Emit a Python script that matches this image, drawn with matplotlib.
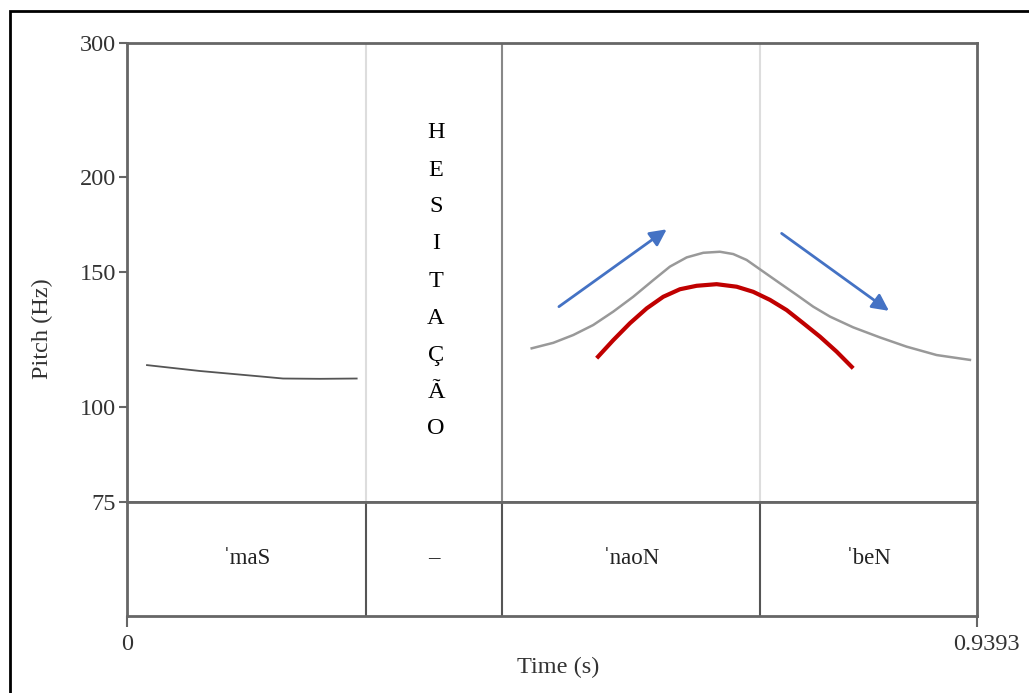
import numpy as np
import matplotlib.pyplot as plt
from matplotlib.patches import Rectangle

plt.rcParams['font.family'] = ['Liberation Serif', 'DejaVu Serif']

# pitch track, first word
t_mas = [0.0221, 0.0807, 0.1470, 0.1724, 0.2133, 0.2538]
f_mas = [113.4, 111.4, 109.6, 108.9, 108.8, 108.9]

# pitch track, second and third words
t_naon = [0.4472, 0.4711, 0.4932, 0.5152, 0.5374, 0.5594, 0.5816, 0.6000,
          0.6185, 0.6368, 0.6552, 0.6699, 0.6847, 0.7031, 0.7215, 0.7400,
          0.7583, 0.7768, 0.8025, 0.8320, 0.8615, 0.8947, 0.9315]
f_naon = [119.3, 121.3, 124.2, 128.0, 133.3, 139.4, 146.6, 152.7,
          157.0, 159.2, 159.7, 158.6, 155.8, 150.4, 145.2, 140.2,
          135.3, 131.3, 127.1, 123.3, 119.9, 116.9, 115.2]

# stylised contour drawn over the track
t_red = [0.5190, 0.5374, 0.5558, 0.5743, 0.5926, 0.6110, 0.6295, 0.6516,
         0.6737, 0.6920, 0.7105, 0.7290, 0.7473, 0.7657, 0.7842, 0.8025]
f_red = [115.8, 122.3, 128.7, 134.6, 139.4, 142.6, 144.1, 144.8,
         143.7, 141.5, 138.1, 133.9, 128.7, 123.6, 118.1, 112.3]

# rise / fall arrows (start time, start Hz, end time, end Hz)
arrows = [(0.4773, 135.3, 0.5964, 170.9),
          (0.7234, 168.8, 0.8420, 133.6)]

# word tier
t_end = 0.9393
bounds = [0.2640, 0.4144, 0.6995]
words = ['ˈmaS', '–', 'ˈnaoN', 'ˈbeN']
hes_letters = ['H', 'E', 'S', 'I', 'T', 'A', 'Ç', 'Ã', 'O']

W, H = 1029, 693
fig = plt.figure(figsize=(W / 100, H / 100), dpi=100)

def frac(x0, y0, x1, y1):
    return [x0 / W, 1 - y1 / H, (x1 - x0) / W, (y1 - y0) / H]

spine_col = '#666666'
fs = 17.5

# outer frame
fig.patches.append(Rectangle((10 / W, -0.05), 1.1, 1 - 11 / H + 0.05,
                             transform=fig.transFigure, fill=False,
                             edgecolor='black', lw=2))

ax = fig.add_axes(frac(127, 43, 977, 502))
ax.set_yscale('log')
ax.set_xlim(0, t_end)
ax.set_ylim(75, 300)
ax.set_yticks([75, 100, 150, 200, 300])
ax.set_yticklabels(['75', '100', '150', '200', '300'])
ax.yaxis.set_minor_locator(plt.NullLocator())
ax.set_xticks([])
ax.tick_params(axis='y', length=6, width=1.5, color=spine_col,
               labelsize=fs, labelcolor='#333333', pad=2)
for s in ax.spines.values():
    s.set_color(spine_col)
    s.set_linewidth(2)

ax.axvline(bounds[0], color='#dddddd', lw=1.5)
ax.axvline(bounds[1], color='#888888', lw=1.5)
ax.axvline(bounds[2], color='#dddddd', lw=1.5)

ax.plot(t_mas, f_mas, color='#555555', lw=1.3, solid_joinstyle='round')
ax.plot(t_naon, f_naon, color='#999999', lw=1.8, solid_joinstyle='round')
ax.plot(t_red, f_red, color='#C00000', lw=3, solid_capstyle='butt',
        solid_joinstyle='round')

for x0, y0, x1, y1 in arrows:
    ax.annotate('', xy=(x1, y1), xytext=(x0, y0),
                arrowprops=dict(arrowstyle='-|>,head_length=1.0,head_width=0.5',
                                color='#4472C4', lw=2, shrinkA=0, shrinkB=0))

# vertical label for the hesitation
for i, ch in enumerate(hes_letters):
    y_px = 133 + i * 37
    fig.text(436 / W, 1 - y_px / H, ch, fontsize=fs, ha='center', va='center',
             color='black')

# text tier
tier = fig.add_axes(frac(127, 502, 977, 616))
tier.set_xlim(0, t_end)
tier.set_ylim(0, 1)
tier.set_yticks([])
tier.set_xticks([0, t_end])
tier.set_xticklabels([])
tier.tick_params(axis='x', length=8, width=1.5, color=spine_col)
for s in tier.spines.values():
    s.set_color(spine_col)
    s.set_linewidth(2)
for b in bounds:
    tier.axvline(b, color='#555555', lw=1.5)
edges = [0] + bounds + [t_end]
for i, w in enumerate(words):
    tier.text((edges[i] + edges[i + 1]) / 2, 0.5, w, fontsize=fs - 1,
              ha='center', va='center', color='#222222')

tier.annotate('0', xy=(0, 0), xycoords='data', xytext=(0, -13),
              textcoords='offset points', ha='center', va='top',
              fontsize=fs, color='#333333')
tier.annotate('0.9393', xy=(t_end, 0), xycoords='data', xytext=(7, -13),
              textcoords='offset points', ha='center', va='top',
              fontsize=fs, color='#333333')

fig.text(558 / W, 1 - 667 / H, 'Time (s)', fontsize=fs, ha='center',
         va='center', color='#333333')
fig.text(42 / W, 1 - 329 / H, 'Pitch (Hz)', fontsize=fs, ha='center',
         va='center', rotation=90, color='#333333')

fig.savefig('out.png', dpi=100, facecolor='white')
